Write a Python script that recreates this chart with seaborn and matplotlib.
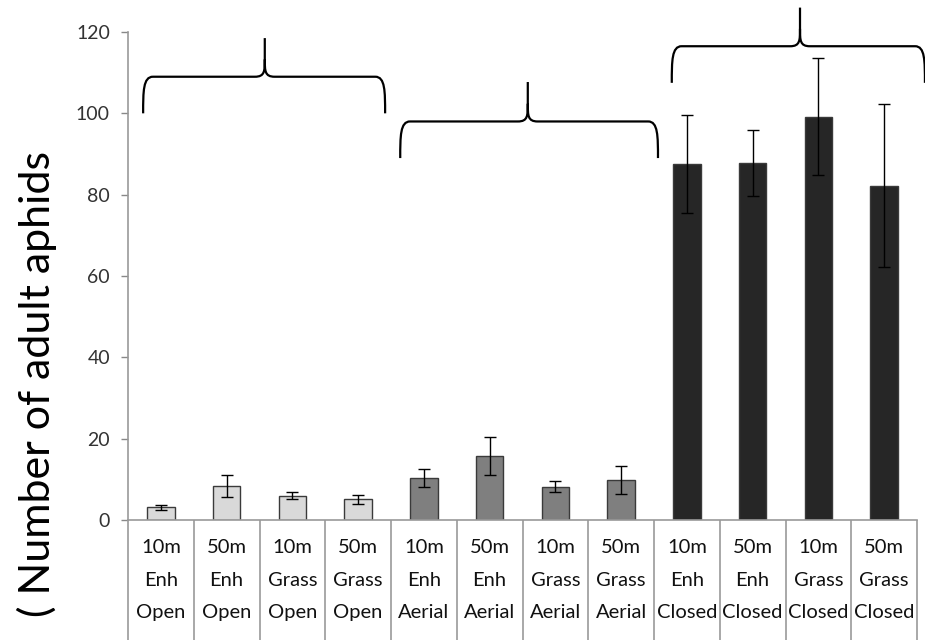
import numpy as np
import pandas as pd
import matplotlib.pyplot as plt
from matplotlib.path import Path
from matplotlib.patches import PathPatch
import matplotlib.transforms as mtransforms
import seaborn as sns

# ---- data ----
distance = ["10m", "50m", "10m", "50m", "10m", "50m", "10m", "50m", "10m", "50m", "10m", "50m"]
margin = ["Enh", "Enh", "Grass", "Grass", "Enh", "Enh", "Grass", "Grass", "Enh", "Enh", "Grass", "Grass"]
treatment = ["Open", "Open", "Open", "Open", "Aerial", "Aerial", "Aerial", "Aerial",
             "Closed", "Closed", "Closed", "Closed"]
mean_aphids = [3.1, 8.4, 6.0, 5.1, 10.3, 15.7, 8.2, 9.9, 87.5, 87.8, 99.2, 82.2]
se_aphids = [0.6, 2.7, 0.9, 1.1, 2.2, 4.6, 1.4, 3.4, 12.0, 8.1, 14.4, 20.0]
bar_colours = {"Open": "#d9d9d9", "Aerial": "#7f7f7f", "Closed": "#262626"}

df = pd.DataFrame({
    "label": [f"{d}\n{m}\n{t}" for d, m, t in zip(distance, margin, treatment)],
    "treatment": treatment,
    "mean": mean_aphids,
    "se": se_aphids,
})

sns.set_theme(style="white")
plt.rcParams["font.family"] = ["Lato", "DejaVu Sans"]

fig = plt.figure(figsize=(9.25, 6.4), dpi=100)
ax = fig.add_axes([0.1384, 0.1875, 0.853, 0.7625])

sns.barplot(data=df, x="label", y="mean", hue="treatment", palette=bar_colours,
            dodge=False, width=0.42, edgecolor="#3a3a3a", linewidth=1.0,
            legend=False, errorbar=None, ax=ax)
xpos = np.arange(len(df))
ax.errorbar(xpos, df["mean"], yerr=df["se"], fmt="none", ecolor="black",
            elinewidth=1.0, capsize=4.5, capthick=1.0, zorder=5)

ax.set_xlim(-0.5, len(df) - 0.5)
ax.set_ylim(0, 120)
ax.set_yticks(range(0, 121, 20))
ax.tick_params(axis="y", length=5, width=1, color="#888888", pad=8,
               labelsize=14, labelcolor="#333333", left=True)
ax.set_xticks([])
ax.set_xlabel("")
ax.set_ylabel("")
for s in ["top", "right"]:
    ax.spines[s].set_visible(False)
for s in ["left", "bottom"]:
    ax.spines[s].set_color("#999999")
    ax.spines[s].set_linewidth(1.2)

# ---- table-style category labels under the axis ----
trans = mtransforms.blended_transform_factory(ax.transData, ax.transAxes)
table_bottom = -0.25
ax.vlines(np.arange(len(df) + 1) - 0.5, table_bottom, 0, transform=trans,
          colors="#999999", linewidth=1.2, clip_on=False)
for rowy, row in zip([-0.057, -0.123, -0.189], [distance, margin, treatment]):
    for x, txt in zip(xpos, row):
        ax.text(x, rowy, txt, transform=trans, ha="center", va="center",
                fontsize=14.5, color="#111111")


# ---- curly braces over each group ----
def brace(ax, x0, x1, xtip, ybot, yh, ytip, rx=0.15):
    verts = [
        (x0, ybot), (x0, ybot + 0.6 * (yh - ybot)), (x0, yh), (x0 + rx, yh),
        (xtip - rx, yh), (xtip, yh), (xtip, yh + 0.15 * (ytip - yh)), (xtip, yh + 0.45 * (ytip - yh)),
        (xtip, ytip),
        (xtip, yh + 0.45 * (ytip - yh)), (xtip, yh + 0.15 * (ytip - yh)), (xtip, yh), (xtip + rx, yh),
        (x1 - rx, yh), (x1, yh), (x1, ybot + 0.6 * (yh - ybot)), (x1, ybot),
    ]
    codes = [Path.MOVETO, Path.CURVE4, Path.CURVE4, Path.CURVE4,
             Path.LINETO, Path.CURVE4, Path.CURVE4, Path.CURVE4,
             Path.LINETO,
             Path.MOVETO, Path.CURVE4, Path.CURVE4, Path.CURVE4,
             Path.LINETO, Path.CURVE4, Path.CURVE4, Path.CURVE4]
    ax.add_patch(PathPatch(Path(verts, codes), fill=False, edgecolor="black",
                           linewidth=1.6, clip_on=False, zorder=6))


brace(ax, -0.27, 3.41, 1.58, 100.0, 109.0, 118.5)
brace(ax, 3.64, 7.56, 5.58, 89.0, 98.0, 107.7)
brace(ax, 7.77, 11.62, 9.72, 107.5, 116.5, 126.0)

fig.text(0.040, 0.40, "( Number of adult aphids", rotation=90, ha="center",
         va="center", fontsize=31, color="black")

fig.savefig("out.png", dpi=100)
